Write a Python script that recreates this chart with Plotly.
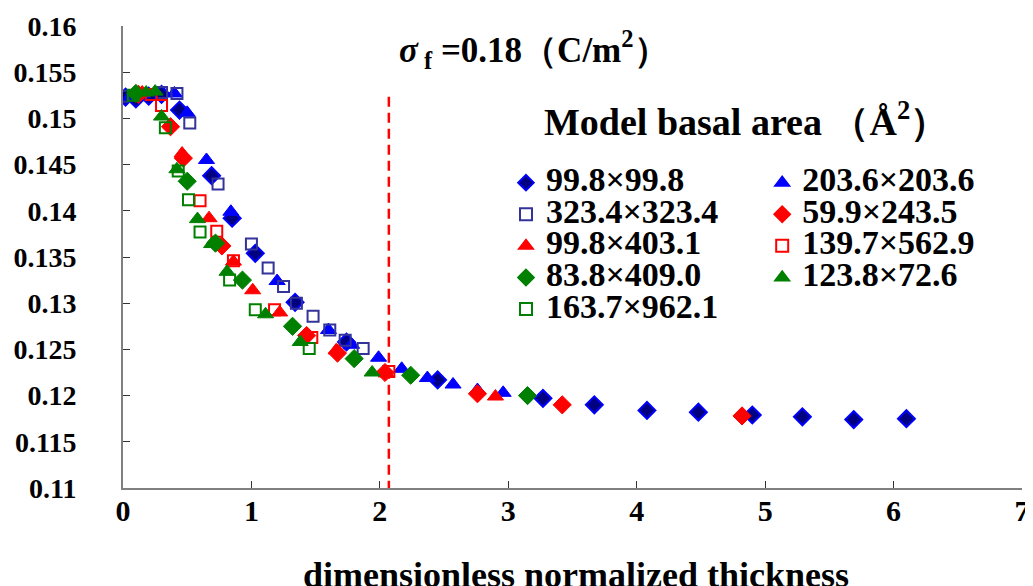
import plotly.graph_objects as go

# ---- data ----
names = ["99.8×99.8", "203.6×203.6", "323.4×323.4", "59.9×243.5", "99.8×403.1",
         "139.7×562.9", "83.8×409.0", "123.8×72.6", "163.7×962.1"]

x_99_99 = [0.02, 0.10, 0.20, 0.30, 0.44, 0.69, 0.85, 1.03, 1.34, 1.74, 2.45, 3.27, 3.67, 4.08, 4.48, 4.90, 5.29, 5.69, 6.10]
y_99_99 = [0.1523, 0.1521, 0.1524, 0.1526, 0.1509, 0.1438, 0.1392, 0.1354, 0.1301, 0.1258, 0.1217, 0.1197, 0.1190, 0.1184, 0.1182, 0.1179, 0.1177, 0.1174, 0.1175]

x_203_203 = [0.05, 0.15, 0.40, 0.50, 0.65, 0.84, 1.20, 1.60, 1.78, 1.99, 2.17, 2.37, 2.57, 2.76, 2.96]
y_203_203 = [0.1523, 0.1526, 0.1527, 0.1506, 0.1455, 0.1399, 0.1324, 0.1271, 0.1255, 0.1241, 0.1229, 0.1219, 0.1212, 0.1206, 0.1203]

x_323_323 = [0.00, 0.30, 0.42, 0.52, 0.74, 1.00, 1.13, 1.25, 1.35, 1.48, 1.61, 1.73, 1.87]
y_323_323 = [0.1524, 0.1528, 0.1527, 0.1495, 0.1429, 0.1364, 0.1338, 0.1318, 0.1300, 0.1286, 0.1271, 0.1260, 0.1251]

x_60_244 = [0.12, 0.37, 0.47, 0.77, 1.43, 1.67, 2.04, 2.76, 3.42, 4.82]
y_60_244 = [0.1526, 0.1491, 0.1457, 0.1362, 0.1265, 0.1246, 0.1225, 0.1202, 0.1190, 0.1178]

x_99_403 = [0.15, 0.46, 0.67, 0.86, 1.01, 1.22, 1.66, 2.05, 2.90]
y_99_403 = [0.1528, 0.1462, 0.1392, 0.1345, 0.1314, 0.1290, 0.1249, 0.1224, 0.1199]

x_140_563 = [0.22, 0.30, 0.60, 0.73, 0.86, 1.18, 1.47, 2.07]
y_140_563 = [0.1526, 0.1514, 0.1411, 0.1378, 0.1346, 0.1293, 0.1263, 0.1226]

x_84_409 = [0.10, 0.50, 0.72, 0.93, 1.32, 1.80, 2.24, 3.15]
y_84_409 = [0.1527, 0.1432, 0.1365, 0.1325, 0.1275, 0.1240, 0.1222, 0.1200]

x_124_73 = [0.18, 0.25, 0.30, 0.42, 0.58, 0.69, 0.81, 1.11, 1.38, 1.94]
y_124_73 = [0.1528, 0.1529, 0.1502, 0.1445, 0.1391, 0.1364, 0.1334, 0.1288, 0.1258, 0.1225]

x_164_962 = [0.08, 0.33, 0.43, 0.51, 0.60, 0.83, 1.03, 1.45]
y_164_962 = [0.1525, 0.1490, 0.1443, 0.1412, 0.1377, 0.1325, 0.1293, 0.1251]

xs = [x_99_99, x_203_203, x_323_323, x_60_244, x_99_403, x_140_563, x_84_409, x_124_73, x_164_962]
ys = [y_99_99, y_203_203, y_323_323, y_60_244, y_99_403, y_140_563, y_84_409, y_124_73, y_164_962]

cutoff_x = 2.07
x_ticks = [0, 1, 2, 3, 4, 5, 6, 7]
y_ticks = [0.11, 0.115, 0.12, 0.125, 0.13, 0.135, 0.14, 0.145, 0.15, 0.155, 0.16]
y_tick_text = ["0.11", "0.115", "0.12", "0.125", "0.13", "0.135", "0.14", "0.145", "0.15", "0.155", "0.16"]

# ---- styles ----
styles = [
    dict(symbol="diamond", size=13, color="#000080", line=dict(color="#0000FF", width=2)),
    dict(symbol="triangle-up", size=14, color="#0000FF", line=dict(color="#0000FF", width=1)),
    dict(symbol="square-open", size=11, color="#333399", line=dict(color="#333399", width=2)),
    dict(symbol="diamond", size=14, color="#FF0000", line=dict(color="#FF0000", width=1)),
    dict(symbol="triangle-up", size=14, color="#FF0000", line=dict(color="#FF0000", width=1)),
    dict(symbol="square-open", size=11, color="#FF0000", line=dict(color="#FF0000", width=2)),
    dict(symbol="diamond", size=14, color="#008000", line=dict(color="#008000", width=1)),
    dict(symbol="triangle-up", size=14, color="#008000", line=dict(color="#008000", width=1)),
    dict(symbol="square-open", size=11, color="#008000", line=dict(color="#008000", width=2)),
]

FONT = "Liberation Serif"

fig = go.Figure()
for i, (n, x, y, st) in enumerate(zip(names, xs, ys, styles)):
    fig.add_trace(go.Scatter(
        x=x, y=y, mode="markers", marker=st,
        name='<span style="font-size:34px">' + n + '</span>',
        legend="legend" if i % 2 == 0 else "legend2",
    ))

fig.add_shape(type="line", x0=cutoff_x, x1=cutoff_x, y0=0.1097, y1=0.1525,
              xref="x", yref="y", line=dict(color="#FF0000", width=2.5, dash="10px,6px"))

legend_common = dict(
    font=dict(family=FONT, size=22, color="black", weight="bold"),
    bgcolor="rgba(0,0,0,0)", borderwidth=0, tracegroupgap=0,
    xanchor="left", yanchor="top", itemsizing="constant",
)

# the page body adds an 8px offset; the figure is sized to fill the rest of the window
fig.update_layout(
    width=1025, height=578,
    margin=dict(l=115, r=11, t=18, b=98),
    paper_bgcolor="white", plot_bgcolor="white",
    font=dict(family=FONT, color="black"),
    showlegend=True,
    legend=dict(x=0.426, y=0.706, **legend_common),
    legend2=dict(x=0.711, y=0.706, **legend_common),
    xaxis=dict(
        range=[0, 7], tickvals=x_ticks, showgrid=False, zeroline=False, automargin=False,
        showline=True, linecolor="#808080", linewidth=2,
        ticks="inside", ticklen=7, tickcolor="#333333", tickwidth=1,
        tickfont=dict(family=FONT, size=30, color="black", weight="bold"),
        ticklabelstandoff=-5,
    ),
    yaxis=dict(
        range=[0.11, 0.16], tickvals=y_ticks, ticktext=y_tick_text, showgrid=False, zeroline=False,
        automargin=False,
        showline=True, linecolor="#808080", linewidth=2,
        ticks="inside", ticklen=7, tickcolor="#333333", tickwidth=1,
        tickfont=dict(family=FONT, size=28, color="black", weight="bold"),
        ticklabelstandoff=39,
    ),
    annotations=[
        dict(text="dimensionless normalized thickness", xref="paper", yref="paper",
             x=0.504, y=-0.1885, xanchor="center", yanchor="middle", showarrow=False,
             font=dict(family=FONT, size=36, color="black", weight="bold")),
        dict(text="<i>σ</i><sub> f</sub> =0.18（C/m<sup>2</sup>）", xref="paper", yref="paper",
             x=0.305, y=0.95, xanchor="left", yanchor="middle", showarrow=False,
             font=dict(family=FONT, size=35, color="black", weight="bold")),
        dict(text="Model basal area （Å<sup>2</sup>）", xref="paper", yref="paper",
             x=0.466, y=0.799, xanchor="left", yanchor="middle", showarrow=False,
             font=dict(family=FONT, size=38, color="black", weight="bold")),
    ],
)

fig.write_html("out.html")
